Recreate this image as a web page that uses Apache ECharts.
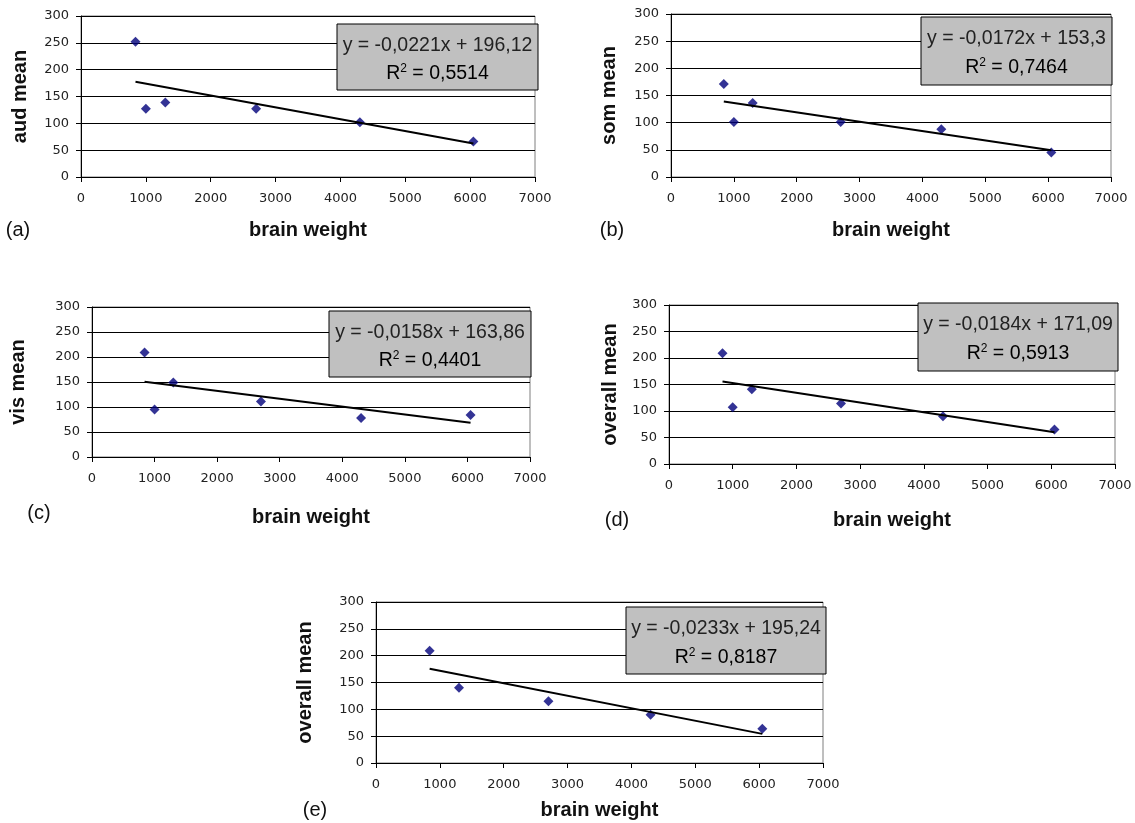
<!DOCTYPE html>
<html>
<head>
<meta charset="utf-8">
<script src="https://cdn.jsdelivr.net/npm/echarts@6/dist/echarts.min.js"></script>
<style>
  html, body { margin: 0; padding: 0; background: #fff; }
  #main { width: 1135px; height: 823px; }
</style>
</head>
<body>
<div id="main"></div>
<script>
// brain weight (x) for panels a-d, and for panel e (one species less)
const brainWeight = [840, 1000, 1300, 2700, 4300, 6050];
const brainWeightE = [840, 1300, 2700, 4300, 6050];

// means
const audMean = [252, 127, 139, 127, 102, 66];
const somMean = [171, 101, 136, 101, 88, 45];
const visMean = [209, 95, 149, 111, 78, 84];
const overallMean = [209, 107, 141, 114, 90, 65];
const overallMeanE = [209, 140, 115, 90, 64];

// trend lines as printed in the boxes
const slopes = [-0.0221, -0.0172, -0.0158, -0.0184, -0.0233];
const intercepts = [196.12, 153.3, 163.86, 171.09, 195.24];
const rSquared = [0.5514, 0.7464, 0.4401, 0.5913, 0.8187];

const panelTags = ['(a)', '(b)', '(c)', '(d)', '(e)'];
const yTitles = ['aud mean', 'som mean', 'vis mean', 'overall mean', 'overall mean'];
const xTitle = 'brain weight';
const xTicks = [0, 1000, 2000, 3000, 4000, 5000, 6000, 7000];
const yTicks = [0, 50, 100, 150, 200, 250, 300];

const panelX = [brainWeight, brainWeight, brainWeight, brainWeight, brainWeightE];
const panelY = [audMean, somMean, visMean, overallMean, overallMeanE];

// layout
const grids = [
  { left: 81, top: 16, width: 454, height: 161 },
  { left: 671, top: 14, width: 440, height: 163 },
  { left: 92, top: 307, width: 438, height: 150 },
  { left: 669, top: 305, width: 446, height: 159 },
  { left: 376, top: 602, width: 447, height: 161 }
];
const yNameGap = [51, 52, 64, 49, 61];
const xNameGap = [43, 43, 50, 46, 37];
const boxes = [
  { x: 337, y: 24, w: 201, h: 66 },
  { x: 921, y: 17, w: 191, h: 68 },
  { x: 329, y: 311, w: 202, h: 66 },
  { x: 918, y: 303, w: 200, h: 68 },
  { x: 626, y: 607, w: 200, h: 67 }
];
const tagPos = [[18, 230], [612, 230], [39, 513], [617, 520], [315, 810]];

const FONT = '"Liberation Sans", Arial, sans-serif';
const TICKFONT = '"DejaVu Sans", Verdana, sans-serif';
const fmt = (v, d) => v.toFixed(d).replace('.', ',');
const decimals = v => (String(v).split('.')[1] || '').length;

let grid = [], xAxis = [], yAxis = [], series = [], graphic = [];

for (let i = 0; i < 5; i++) {
  grid.push(Object.assign({ show: true, borderColor: '#7f7f7f', borderWidth: 1, backgroundColor: '#fff' }, grids[i]));
  xAxis.push({
    type: 'value', gridIndex: i, min: xTicks[0], max: xTicks[xTicks.length - 1], interval: 1000,
    name: xTitle, nameLocation: 'middle', nameGap: xNameGap[i],
    nameTextStyle: { fontFamily: FONT, fontSize: 20, fontWeight: 'bold', color: '#111' },
    axisLine: { show: true, onZero: false, lineStyle: { color: '#000', width: 1 } },
    axisTick: { show: true, length: 5, lineStyle: { color: '#000' } },
    axisLabel: { fontFamily: TICKFONT, fontSize: 13, color: '#222', margin: 15, formatter: v => String(v) },
    splitLine: { show: false }
  });
  yAxis.push({
    type: 'value', gridIndex: i, min: yTicks[0], max: yTicks[yTicks.length - 1], interval: 50,
    name: yTitles[i], nameLocation: 'middle', nameGap: yNameGap[i], nameRotate: 90,
    nameTextStyle: { fontFamily: FONT, fontSize: 20, fontWeight: 'bold', color: '#111' },
    axisLine: { show: true, lineStyle: { color: '#000', width: 1 } },
    axisTick: { show: true, length: 5, lineStyle: { color: '#000' } },
    axisLabel: { fontFamily: TICKFONT, fontSize: 13, color: '#222', margin: 12, formatter: v => String(v) },
    splitLine: { show: true, lineStyle: { color: '#000', width: 1 } }
  });

  const xs = panelX[i], ys = panelY[i];
  series.push({
    type: 'scatter', xAxisIndex: i, yAxisIndex: i, symbol: 'diamond', symbolSize: 10,
    itemStyle: { color: '#00007a' }, z: 3,
    data: xs.map((x, k) => [x, ys[k]])
  });
  const x0 = Math.min(...xs), x1 = Math.max(...xs);
  series.push({
    type: 'line', xAxisIndex: i, yAxisIndex: i, symbol: 'none', z: 4,
    lineStyle: { color: '#000', width: 2 },
    data: [[x0, slopes[i] * x0 + intercepts[i]], [x1, slopes[i] * x1 + intercepts[i]]]
  });

  const b = boxes[i];
  const eq = 'y = ' + fmt(slopes[i], 4) + 'x + ' + fmt(intercepts[i], decimals(intercepts[i]));
  graphic.push({
    type: 'rect', shape: { x: b.x, y: b.y, width: b.w, height: b.h }, z: 50,
    style: { fill: '#c0c0c0', stroke: '#000', lineWidth: 1 }
  });
  graphic.push({
    type: 'text', x: b.x + b.w / 2, y: b.y + b.h * 0.29 + 2, z: 51,
    style: { text: eq, font: '19.5px ' + FONT, fill: '#222', align: 'center', verticalAlign: 'middle' }
  });
  graphic.push({
    type: 'text', x: b.x + b.w / 2, y: b.y + b.h * 0.72 + 2, z: 51,
    style: {
      text: '{n|R}{s|2}{n| = ' + fmt(rSquared[i], 4) + '}',
      align: 'center', verticalAlign: 'middle',
      rich: {
        n: { fontFamily: FONT, fontSize: 19.5, color: '#222' },
        s: { fontFamily: FONT, fontSize: 12, color: '#222', verticalAlign: 'top', padding: [0, 0, 10, 0] }
      }
    }
  });
  graphic.push({
    type: 'text', x: tagPos[i][0], y: tagPos[i][1], z: 51,
    style: { text: panelTags[i], font: '20px ' + FONT, fill: '#111', align: 'center', verticalAlign: 'middle' }
  });
}

const chart = echarts.init(document.getElementById('main'), null, { renderer: 'canvas' });
chart.setOption({
  animation: false,
  backgroundColor: '#fff',
  grid: grid,
  xAxis: xAxis,
  yAxis: yAxis,
  series: series,
  graphic: graphic
});
</script>
</body>
</html>
